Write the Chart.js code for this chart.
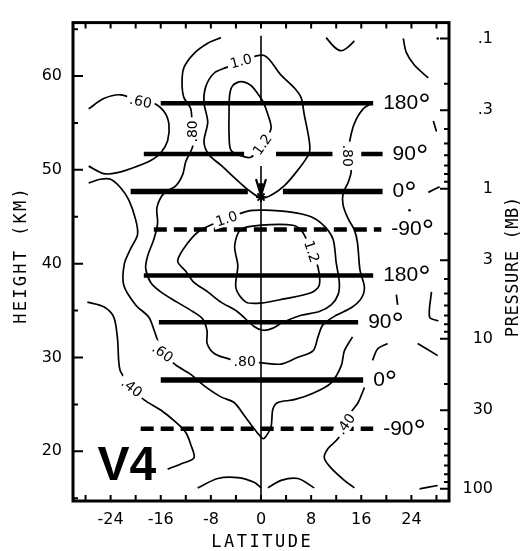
<!DOCTYPE html>
<html>
<head>
<meta charset="utf-8">
<script src="https://cdn.jsdelivr.net/npm/chart.js@4.4.1/dist/chart.umd.min.js"></script>
<style>
  html, body { margin: 0; padding: 0; background: #fff; }
  canvas { display: block; }
</style>
</head>
<body>
<canvas id="chart" width="526" height="551"></canvas>
<script>
// axis ticks
const latitudeTicks = [-28, -24, -20, -16, -12, -8, -4, 0, 4, 8, 12, 16, 20, 24, 28];
const latitudeLabels = [-24, -16, -8, 0, 8, 16, 24];
const heightTicks = [15, 20, 25, 30, 35, 40, 45, 50, 55, 60, 65];
const heightLabels = [20, 30, 40, 50, 60];
const pressureTicks = [0.1, 0.2, 0.3, 0.4, 0.5, 0.6, 0.7, 0.8, 0.9,
  1, 2, 3, 4, 5, 6, 7, 8, 9, 10, 20, 30, 40, 50, 60, 70, 80, 90, 100];
const pressureLabels = [0.1, 0.3, 1, 3, 10, 30, 100];

// phase of the wave at each level and the latitude spans of its bar
const phaseHeights = [57.1, 51.7, 47.7, 43.65, 38.75, 33.75, 27.6, 22.4];
const phaseAngles = [180, 90, 0, -90, 180, 90, 0, -90];
const phaseSpans = [
  [[-16.0, 17.9]],
  [[-18.7, -2.7], [2.4, 11.4], [16.0, 19.4]],
  [[-20.8, -2.1], [3.5, 19.4]],
  [[-17.1, 19.2]],
  [[-18.7, 17.9]],
  [[-16.3, 15.5]],
  [[-16.0, 16.3]],
  [[-19.2, 17.9]]
];

// amplitude contours, [latitude, height km]
const contour060Top = [[-27.5, 56.5], [-25.1, 57.6], [-22.4, 58.0], [-19.2, 57.3], [-17.1, 57.1], [-15.5, 56.25],
  [-14.7, 54.9], [-14.9, 53.1], [-16.0, 51.8], [-17.6, 51.0], [-19.7, 50.4], [-22.9, 49.7], [-25.1, 49.6], [-27.5, 50.4]];
const contour060Low = [[-27.5, 48.6], [-25.6, 49.0], [-24.0, 49.0], [-22.4, 48.1], [-21.1, 46.8], [-20.0, 44.7],
  [-19.7, 43.1], [-20.8, 41.6], [-21.8, 40.0], [-21.9, 37.7], [-20.0, 35.6], [-17.9, 34.3], [-17.0, 32.8],
  [-15.7, 30.5], [-13.6, 29.2], [-11.2, 28.2], [-9.1, 27.0], [-6.4, 25.8], [-4.3, 25.2], [-2.7, 23.85],
  [-1.1, 22.4], [0.3, 21.35], [0.8, 21.6], [1.6, 22.6], [1.9, 24.5], [2.7, 25.2], [5.3, 25.5], [8.5, 26.25],
  [11.2, 27.3], [12.8, 29.1], [13.3, 30.7], [14.6, 32.2]];
const contour080 = [[-6.4, 64.1], [-8.5, 63.5], [-10.7, 62.4], [-12.3, 60.9], [-12.6, 59.3], [-12.3, 57.7],
  [-11.2, 56.5], [-11.0, 54.1], [-10.9, 52.5], [-12.0, 50.9], [-12.5, 49.5], [-13.6, 48.3], [-15.5, 47.5],
  [-16.6, 46.0], [-16.5, 44.3], [-17.1, 42.6], [-18.1, 40.8], [-18.4, 39.5], [-17.6, 38.0], [-16.0, 37.0],
  [-13.4, 35.9], [-10.9, 34.9], [-9.3, 34.1], [-8.6, 32.8], [-8.6, 31.5], [-7.4, 30.4], [-4.8, 29.8],
  [-2.6, 29.6], [0.5, 29.4], [3.2, 29.3], [5.8, 30.0], [8.3, 30.7], [9.1, 32.2], [9.9, 33.5], [12.0, 34.5],
  [14.4, 35.3], [16.0, 36.3], [16.5, 37.5], [15.8, 39.3], [15.4, 42.2], [14.9, 43.6], [13.9, 44.8],
  [13.1, 46.25], [13.1, 47.5], [13.9, 48.65], [14.4, 49.9], [13.9, 51.5], [14.4, 53.85], [15.2, 55.4],
  [16.3, 56.5], [17.4, 57.0]];
const contour100Top = [[-3.2, 61.6], [0.5, 62.2], [3.2, 60.1], [5.3, 58.75], [6.4, 57.7], [6.9, 55.9], [7.7, 53.1],
  [7.7, 51.8], [5.9, 50.0], [3.7, 48.3], [1.6, 47.3], [0.0, 47.0], [-2.1, 47.9], [-4.3, 49.2], [-6.4, 50.5],
  [-8.3, 51.6], [-9.1, 53.0], [-8.5, 55.1], [-9.1, 57.2], [-8.8, 58.9], [-7.5, 60.3], [-5.6, 60.9], [-3.2, 61.6]];
const contour120Top = [[0.2, 52.7], [1.6, 54.4], [1.1, 55.9], [0.3, 57.3], [-0.5, 58.1], [-1.6, 59.0], [-3.2, 59.4],
  [-4.5, 59.0], [-5.0, 58.0], [-5.1, 55.9], [-5.1, 53.85], [-4.8, 52.1], [-3.2, 51.5], [-1.6, 51.35], [0.2, 52.7]];
const contour100Mid = [[-5.5, 44.8], [-2.1, 45.6], [0.5, 45.7], [4.8, 45.5], [8.0, 45.0], [10.1, 44.0], [11.5, 42.6],
  [12.0, 40.1], [12.5, 38.0], [12.3, 36.7], [11.2, 35.6], [9.3, 34.9], [6.4, 34.5], [3.5, 33.75], [1.8, 33.1],
  [0.3, 32.9], [-1.1, 33.3], [-3.8, 34.9], [-6.4, 35.9], [-8.5, 37.0], [-10.7, 38.0], [-12.0, 39.2],
  [-13.3, 40.3], [-11.7, 42.2], [-9.6, 43.6], [-5.5, 44.8]];
const contour120Mid = [[8.1, 41.3], [9.1, 39.6], [9.3, 37.7], [8.0, 36.9], [3.7, 36.25], [0.0, 35.8], [-2.4, 35.9],
  [-4.0, 37.4], [-3.7, 39.8], [-4.2, 41.9], [-3.2, 43.65], [0.0, 44.1], [5.1, 44.1], [6.6, 43.4], [8.1, 41.3]];
const contour040West = [[-27.7, 35.9], [-25.1, 35.4], [-23.5, 34.3], [-22.9, 32.0], [-22.7, 29.6], [-22.4, 28.5],
  [-20.6, 26.8], [-18.7, 25.5], [-16.0, 24.4], [-13.6, 23.1], [-12.0, 22.0], [-11.2, 20.7], [-10.7, 19.3],
  [-12.8, 18.65], [-14.9, 18.1]];
const contour040East = [[16.5, 26.8], [15.5, 25.2], [14.4, 24.2], [13.5, 22.9], [12.3, 21.35], [10.7, 20.3],
  [10.1, 19.3], [11.2, 18.2], [13.3, 16.9], [14.9, 16.1]];
// short unlabelled contour pieces
const contourPieces = [
  [[-10.1, 16.1], [-6.9, 17.1], [-3.7, 17.2], [-1.1, 16.7], [0.0, 16.1]],
  [[1.1, 16.1], [3.2, 16.9], [5.9, 17.1], [8.5, 16.1]],
  [[25.3, 16.0], [28.2, 16.35]],
  [[17.8, 29.7], [18.6, 30.9], [20.2, 31.5]],
  [[25.0, 31.5], [28.2, 30.2]],
  [[21.6, 36.7], [21.8, 35.6]],
  [[27.2, 37.0], [26.9, 34.3], [28.3, 33.9]],
  [[10.4, 64.1], [11.7, 63.1], [12.8, 62.7], [13.9, 63.1], [14.9, 63.75]],
  [[22.7, 64.0], [23.2, 62.5], [24.5, 61.15], [26.7, 59.8]],
  [[27.5, 55.2], [28.0, 54.1]],
  [[26.7, 47.6], [28.5, 48.2]]
];
const contourDots = [[23.7, 45.7], [28.2, 64.0]];

// equator line pieces (height km) and the downward arrow
const equatorSpans = [[14.7, 50.4], [57.1, 64.3]];
const arrowTip = [0, 47.3];

const contourLabels = [
  { text: '.60', lat: -19.2, km: 57.3, angle: 12 },
  { text: '.80', lat: -11.0, km: 54.1, angle: -90 },
  { text: '1.0', lat: -3.2, km: 61.6, angle: -15 },
  { text: '1.2', lat: 0.2, km: 52.7, angle: -55 },
  { text: '.80', lat: 13.9, km: 51.5, angle: 90 },
  { text: '1.0', lat: -5.5, km: 44.8, angle: -18 },
  { text: '1.2', lat: 8.1, km: 41.3, angle: 72 },
  { text: '.80', lat: -2.6, km: 29.6, angle: 0 },
  { text: '.60', lat: -15.7, km: 30.5, angle: 36 },
  { text: '.40', lat: -20.6, km: 26.8, angle: 38 },
  { text: '.40', lat: 13.5, km: 22.9, angle: -55 }
];

// height of the 1 mb level and km per pressure decade, to line up the pressure axis
const oneMbHeight = 48;
const kmPerDecade = 16;
const pressureAt = km => Math.pow(10, (oneMbHeight - km) / kmPerDecade);

const heightMin = 14.7, heightMax = 65.7;
const toPoints = arr => arr.map(([lat, km]) => ({ x: lat, y: km }));

const datasets = [];

phaseHeights.forEach((km, i) => {
  phaseSpans[i].forEach(([a, b]) => {
    datasets.push({
      data: [{ x: a, y: km }, { x: b, y: km }],
      showLine: true, pointRadius: 0,
      borderColor: '#000',
      borderWidth: phaseAngles[i] === 0 ? 5.5 : 4.5,
      borderDash: phaseAngles[i] === -90 ? [13, 7] : [],
      borderCapStyle: 'butt',
      order: 0
    });
  });
});

equatorSpans.forEach(([lo, hi]) => {
  datasets.push({
    data: [{ x: 0, y: lo }, { x: 0, y: hi }],
    showLine: true, pointRadius: 0, borderColor: '#000', borderWidth: 1.6, order: 1
  });
});

datasets.push({
  data: [{ x: arrowTip[0], y: arrowTip[1] - 0.2 }],
  pointStyle: 'star', pointRadius: 5, borderColor: '#000', borderWidth: 2, order: 0
});

[contour060Top, contour060Low, contour080, contour100Top, contour120Top, contour100Mid, contour120Mid,
  contour040West, contour040East, ...contourPieces].forEach(line => {
  datasets.push({
    data: toPoints(line),
    showLine: true, pointRadius: 0, borderColor: '#000', borderWidth: 1.7,
    tension: 0.3, order: 2
  });
});

datasets.push({
  data: toPoints(contourDots),
  pointRadius: 1.3, backgroundColor: '#000', borderWidth: 0, order: 2
});

function spacedText(ctx, text, cx, cy, angle, spacing) {
  ctx.save();
  ctx.translate(cx, cy);
  ctx.rotate(angle);
  ctx.letterSpacing = spacing + 'px';
  ctx.textAlign = 'center';
  ctx.textBaseline = 'middle';
  ctx.fillText(text, spacing / 2, 0);
  ctx.restore();
}

const decorations = {
  id: 'decorations',
  afterDatasetsDraw(chart) {
    const { ctx, scales: { x, y } } = chart;
    ctx.save();
    ctx.fillStyle = '#000';

    // contour values on white patches
    ctx.font = '14px "DejaVu Sans"';
    contourLabels.forEach(l => {
      ctx.save();
      ctx.translate(x.getPixelForValue(l.lat), y.getPixelForValue(l.km));
      ctx.rotate(l.angle * Math.PI / 180);
      const w = ctx.measureText(l.text).width;
      ctx.fillStyle = '#fff';
      ctx.fillRect(-w / 2 - 3, -7, w + 6, 14);
      ctx.fillStyle = '#000';
      ctx.textAlign = 'center';
      ctx.textBaseline = 'middle';
      ctx.fillText(l.text, 0, 1);
      ctx.restore();
    });

    // arrow head on the equator line
    const tx = x.getPixelForValue(arrowTip[0]);
    const ty = y.getPixelForValue(arrowTip[1]);
    ctx.strokeStyle = '#000';
    ctx.lineWidth = 2.2;
    ctx.beginPath();
    ctx.moveTo(tx - 5, ty - 16);
    ctx.lineTo(tx, ty);
    ctx.lineTo(tx + 5, ty - 16);
    ctx.stroke();
    ctx.beginPath();
    ctx.moveTo(tx - 2.5, ty - 12);
    ctx.lineTo(tx, ty);
    ctx.lineTo(tx + 2.5, ty - 12);
    ctx.closePath();
    ctx.fill();

    // phase labels at the bar ends, degree sign raised
    phaseHeights.forEach((km, i) => {
      const spans = phaseSpans[i];
      const px = x.getPixelForValue(spans[spans.length - 1][1]) + 10;
      const py = y.getPixelForValue(km);
      const text = String(phaseAngles[i]);
      ctx.font = '21px "Liberation Sans"';
      ctx.textAlign = 'left';
      ctx.textBaseline = 'alphabetic';
      const m = ctx.measureText(text);
      const base = py + m.actualBoundingBoxAscent / 2 - 1;
      ctx.fillText(text, px, base);
      const top = base - m.actualBoundingBoxAscent;
      ctx.font = '31px "Liberation Sans"';
      const d = ctx.measureText('\u00B0');
      ctx.fillText('\u00B0', px + m.width, top - 2 + d.actualBoundingBoxAscent);
    });

    ctx.font = 'bold 48px "Liberation Sans"';
    ctx.textAlign = 'left';
    ctx.textBaseline = 'alphabetic';
    ctx.fillText('V4', x.getPixelForValue(-26.1), y.getPixelForValue(16.9));
    ctx.restore();
  },
  afterDraw(chart) {
    const { ctx, chartArea: a, scales: { x, y, p } } = chart;
    ctx.save();
    ctx.strokeStyle = '#000';
    ctx.lineWidth = 2;
    ctx.beginPath();
    latitudeTicks.forEach(v => {
      const px = x.getPixelForValue(v);
      ctx.moveTo(px, a.bottom);
      ctx.lineTo(px, a.bottom - 6);
      ctx.moveTo(px, a.top);
      ctx.lineTo(px, a.top + 6);
    });
    heightTicks.forEach(v => {
      const py = y.getPixelForValue(v);
      ctx.moveTo(a.left, py);
      ctx.lineTo(a.left + (heightLabels.includes(v) ? 10 : 5), py);
    });
    pressureTicks.forEach(v => {
      const py = p.getPixelForValue(v);
      ctx.moveTo(a.right, py);
      ctx.lineTo(a.right - (pressureLabels.includes(v) ? 9 : 5), py);
    });
    ctx.stroke();
    ctx.lineWidth = 3;
    ctx.strokeRect(a.left, a.top, a.right - a.left, a.bottom - a.top);

    ctx.fillStyle = '#000';
    ctx.font = '17px "DejaVu Sans Mono"';
    spacedText(ctx, 'LATITUDE', (a.left + a.right) / 2, 543, 0, 2.5);
    spacedText(ctx, 'HEIGHT (KM)', 22, 256, -Math.PI / 2, 2.3);
    spacedText(ctx, 'PRESSURE (MB)', 514, 267, -Math.PI / 2, 0.6);
    ctx.restore();
  }
};

const tickFont = { family: 'DejaVu Sans', size: 16 };
const formatPressure = v => (v < 1 ? String(v).replace(/^0/, '') : String(v));

new Chart(document.getElementById('chart'), {
  type: 'scatter',
  data: { datasets },
  options: {
    responsive: false,
    animation: false,
    events: [],
    layout: { padding: { top: 11, right: 33, left: 0, bottom: 0 } },
    plugins: { legend: { display: false }, tooltip: { enabled: false } },
    scales: {
      x: {
        type: 'linear', position: 'bottom', min: -30, max: 30,
        grid: { display: false, drawTicks: false }, border: { display: false },
        afterBuildTicks: s => { s.ticks = latitudeTicks.map(v => ({ value: v })); },
        afterFit: s => { s.height = 50; },
        ticks: {
          autoSkip: false, maxRotation: 0, padding: 9, color: '#000', font: tickFont,
          callback: v => (latitudeLabels.includes(v) ? String(v) : '')
        }
      },
      y: {
        type: 'linear', position: 'left', min: heightMin, max: heightMax,
        grid: { display: false, drawTicks: false }, border: { display: false },
        afterBuildTicks: s => { s.ticks = heightTicks.map(v => ({ value: v })); },
        afterFit: s => { s.width = 73; },
        ticks: {
          autoSkip: false, padding: 11, color: '#000', font: tickFont,
          callback: v => (heightLabels.includes(v) ? String(v) : '')
        }
      },
      p: {
        type: 'logarithmic', position: 'right', reverse: true,
        min: pressureAt(heightMax), max: pressureAt(heightMin),
        grid: { display: false, drawTicks: false }, border: { display: false },
        afterBuildTicks: s => { s.ticks = pressureTicks.map(v => ({ value: v })); },
        afterFit: s => { s.width = 44; },
        ticks: {
          autoSkip: false, padding: 13, crossAlign: 'far', color: '#000', font: tickFont,
          callback: v => (pressureLabels.includes(v) ? formatPressure(v) : '')
        }
      }
    }
  },
  plugins: [decorations]
});
</script>
</body>
</html>
